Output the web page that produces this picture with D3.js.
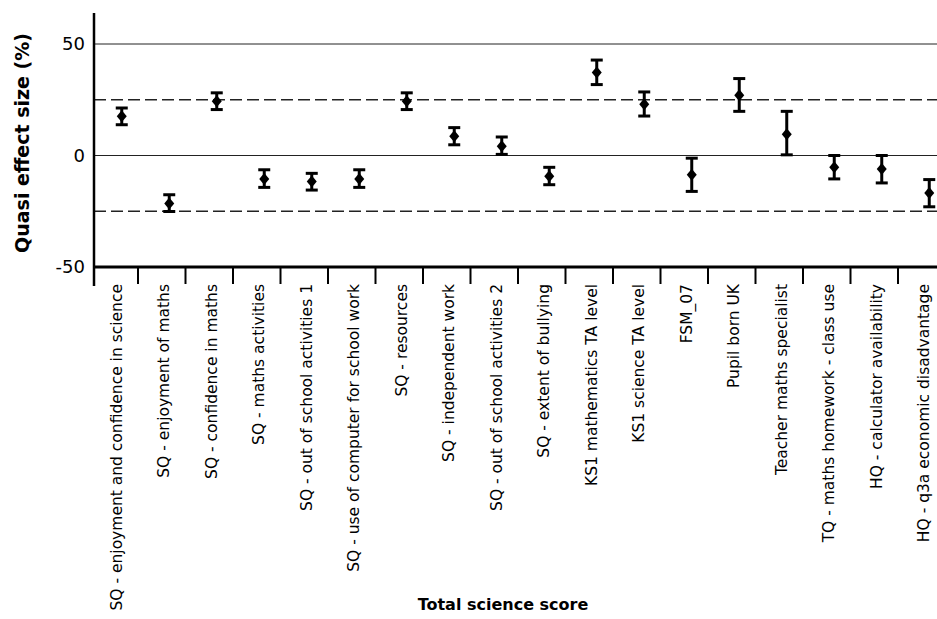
<!DOCTYPE html>
<html>
<head>
<meta charset="utf-8">
<script src="https://cdn.jsdelivr.net/npm/d3@7"></script>
<style>
    body { margin: 0; background: #fff; }
    text { font-family: "DejaVu Sans", sans-serif; fill: #000; }
</style>
</head>
<body>
<div id="chart"></div>
<script>
var svgWidth = 937;
var svgHeight = 619;

// categories along the x axis
var categories = [
    "SQ - enjoyment and confidence in science",
    "SQ - enjoyment of maths",
    "SQ - confidence in maths",
    "SQ - maths activities",
    "SQ - out of school activities 1",
    "SQ - use of computer for school work",
    "SQ - resources",
    "SQ - independent work",
    "SQ - out of school activities 2",
    "SQ - extent of bullying",
    "KS1 mathematics TA level",
    "KS1 science TA level",
    "FSM_07",
    "Pupil born UK",
    "Teacher maths specialist",
    "TQ - maths homework - class use",
    "HQ - calculator availability",
    "HQ - q3a economic disadvantage"
];

// quasi effect size (%) with lower / upper bounds
var effect = [17.6, -21.5, 24.3, -10.5, -11.7, -10.5, 24.3, 8.6, 4.2, -9.3, 37.2, 23.0, -8.6, 27.0, 9.5, -5.3, -6.0, -16.8];
var lower  = [13.8, -25.1, 20.6, -14.3, -15.5, -14.3, 20.6, 4.8, 0.5, -13.1, 31.8, 17.7, -16.1, 19.8, 0.3, -10.5, -12.3, -23.0];
var upper  = [21.3, -17.6, 28.1, -6.4, -8.0, -6.4, 28.1, 12.5, 8.3, -5.3, 42.8, 28.5, -1.2, 34.5, 19.8, 0.0, 0.0, -10.8];

var yTicks = [50, 0, -50];
var solidLines = [50, 0];
var dashedLines = [25, -25];

var axisX = 94;
var axisY = 267;

var svg = d3.select("#chart")
    .append("svg")
    .attr("width", svgWidth)
    .attr("height", svgHeight);

var xScale = d3.scaleBand()
    .domain(categories)
    .range([90.5, 945.5])
    .padding(0);

var yScale = d3.scaleLinear()
    .domain([-50, 50])
    .range([axisY, 44]);

var rows = categories.map(function(c, i) {
    return { cat: c, v: effect[i], lo: lower[i], hi: upper[i] };
});

// gridlines
svg.selectAll(".solid")
    .data(solidLines)
    .enter()
    .append("line")
    .attr("x1", axisX).attr("x2", svgWidth)
    .attr("y1", d => yScale(d)).attr("y2", d => yScale(d))
    .attr("stroke", "#222")
    .attr("stroke-width", 1);

svg.selectAll(".dashed")
    .data(dashedLines)
    .enter()
    .append("line")
    .attr("x1", axisX).attr("x2", svgWidth)
    .attr("y1", d => yScale(d)).attr("y2", d => yScale(d))
    .attr("stroke", "#222")
    .attr("stroke-width", 1.3)
    .attr("stroke-dasharray", "12,5");

// axes
svg.append("line")
    .attr("x1", axisX).attr("x2", axisX)
    .attr("y1", 13).attr("y2", 286)
    .attr("stroke", "#000")
    .attr("stroke-width", 2.5);

svg.append("line")
    .attr("x1", axisX).attr("x2", svgWidth)
    .attr("y1", axisY).attr("y2", axisY)
    .attr("stroke", "#000")
    .attr("stroke-width", 3);

// category separators
svg.selectAll(".sep")
    .data(categories.slice(1))
    .enter()
    .append("line")
    .attr("x1", d => xScale(d)).attr("x2", d => xScale(d))
    .attr("y1", axisY).attr("y2", 284)
    .attr("stroke", "#000")
    .attr("stroke-width", 2);

// y tick labels
svg.selectAll(".ytick")
    .data(yTicks)
    .enter()
    .append("text")
    .attr("x", 85)
    .attr("y", d => yScale(d))
    .attr("dy", "0.36em")
    .attr("text-anchor", "end")
    .style("font-size", "18px")
    .text(d => d);

// x category labels
svg.selectAll(".xlabel")
    .data(categories)
    .enter()
    .append("text")
    .attr("transform", d => `translate(${xScale(d) + xScale.bandwidth() / 2 + 2}, 284) rotate(-90)`)
    .attr("dy", "0.36em")
    .attr("text-anchor", "end")
    .style("font-size", "15.5px")
    .text(d => d);

// error bars
var pointOffset = 7.5;
var bars = svg.selectAll(".bar")
    .data(rows)
    .enter()
    .append("g")
    .attr("transform", d => `translate(${xScale(d.cat) + xScale.bandwidth() / 2 + pointOffset}, 0)`);

bars.append("line")
    .attr("x1", 0).attr("x2", 0)
    .attr("y1", d => yScale(d.lo)).attr("y2", d => yScale(d.hi))
    .attr("stroke", "#000")
    .attr("stroke-width", 3);

bars.append("line")
    .attr("x1", -6).attr("x2", 6)
    .attr("y1", d => yScale(d.hi)).attr("y2", d => yScale(d.hi))
    .attr("stroke", "#000")
    .attr("stroke-width", 3);

bars.append("line")
    .attr("x1", -6).attr("x2", 6)
    .attr("y1", d => yScale(d.lo)).attr("y2", d => yScale(d.lo))
    .attr("stroke", "#000")
    .attr("stroke-width", 3);

bars.append("path")
    .attr("d", "M0,-6L5,0L0,6L-5,0Z")
    .attr("transform", d => `translate(0, ${yScale(d.v)})`)
    .attr("fill", "#000");

// axis titles
svg.append("text")
    .attr("transform", `translate(22, ${(33 + 253) / 2}) rotate(-90)`)
    .attr("dy", "0.36em")
    .attr("text-anchor", "middle")
    .style("font-size", "19px")
    .style("font-weight", "bold")
    .text("Quasi effect size (%)");

svg.append("text")
    .attr("x", 503)
    .attr("y", 610)
    .attr("text-anchor", "middle")
    .style("font-size", "16px")
    .style("font-weight", "bold")
    .text("Total science score");
</script>
</body>
</html>
